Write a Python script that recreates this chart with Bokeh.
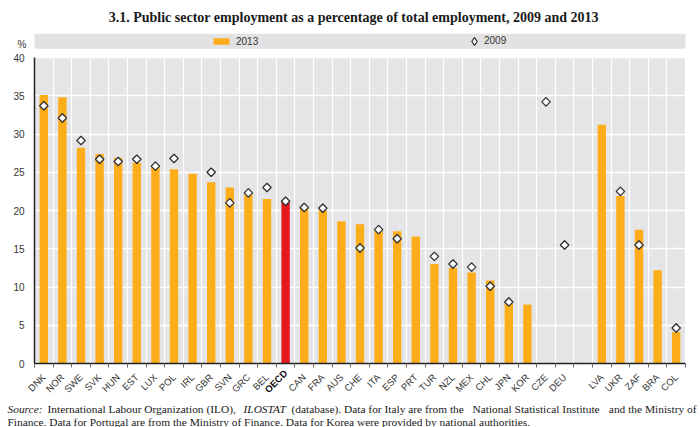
import math
from bokeh.plotting import figure
from bokeh.models import (ColumnDataSource, Range1d, FixedTicker, Label, Legend,
                          LegendItem, BoxAnnotation)
from bokeh.embed import file_html
from bokeh.resources import INLINE

nan = float("nan")

countries = ["DNK", "NOR", "SWE", "SVK", "HUN", "EST", "LUX", "POL", "IRL", "GBR",
             "SVN", "GRC", "BEL", "OECD", "CAN", "FRA", "AUS", "CHE", "ITA", "ESP",
             "PRT", "TUR", "NZL", "MEX", "CHL", "JPN", "KOR", "CZE", "DEU",
             "LVA", "UKR", "ZAF", "BRA", "COL"]
share_2013 = [35.1, 34.8, 28.2, 27.4, 26.9, 26.2, 25.9, 25.4, 24.8, 23.7,
              23.0, 22.1, 21.5, 21.3, 20.3, 20.0, 18.6, 18.2, 17.4, 17.3,
              16.6, 13.0, 12.5, 11.9, 10.85, 7.9, 7.7, nan, nan,
              31.2, 21.9, 17.5, 12.2, 4.1]
share_2009 = [33.7, 32.1, 29.15, 26.7, 26.4, 26.7, 25.8, 26.8, nan, 25.0,
              21.0, 22.3, 23.0, 21.2, 20.4, 20.3, nan, 15.1, 17.5, 16.3,
              nan, 14.0, 13.0, 12.6, 10.1, 8.05, nan, 34.2, 15.5,
              nan, 22.5, 15.5, nan, 4.65]
first_partner = "LVA"          # partner countries are shown after a gap
highlight = "OECD"
y_ticks = [0, 5, 10, 15, 20, 25, 30, 35, 40]
series_labels = ["2013", "2009"]
unit_label = "%"

title_text = "3.1.  Public sector employment as a percentage of total employment, 2009 and 2013"
# (text, style, x in px, line, align)
source_pieces = [
    ("Source:", "italic", 7, 0, "left"),
    ("International Labour Organization (ILO),", "normal", 47, 0, "left"),
    ("ILOSTAT", "italic", 243, 0, "left"),
    ("(database). Data for Italy are from the", "normal", 291, 0, "left"),
    ("National Statistical Institute", "normal", 472, 0, "left"),
    ("and the Ministry of", "normal", 696, 0, "right"),
    ("Finance. Data for Portugal are from the Ministry of Finance. Data for Korea were provided by national authorities.",
     "normal", 7, 1, "left"),
]

ORANGE = "#FDAC1A"
RED = "#E3171D"
BG = "#E5E5E7"
BAND = "#E2E2E3"
TXT = "#333333"
SANS = "Liberation Sans"
SERIF = "Liberation Serif"

# page geometry (px)
W, H = 700, 427
FRAME_L, FRAME_R = 34, 685     # plotting area left/right
FRAME_T, FRAME_B = 57, 363     # plotting area top/bottom

n = len(countries)
gap_at = countries.index(first_partner)
slots = [i + (1 if i >= gap_at else 0) for i in range(n)]
centers = [s + 0.5 for s in slots]
n_slots = n + 1
boundaries = list(range(n_slots + 1))
colors = [RED if c == highlight else ORANGE for c in countries]

src = ColumnDataSource(dict(x=centers, top=share_2013, y2009=share_2009,
                            color=colors, name=countries))

y_min, y_max = y_ticks[0], y_ticks[-1]
ppx = (FRAME_R - FRAME_L) / n_slots
ppy = (FRAME_B - FRAME_T) / (y_max - y_min)
x_range = Range1d(-FRAME_L / ppx, n_slots + (W - FRAME_R) / ppx)
y_range = Range1d(y_min - (H - FRAME_B) / ppy, y_max + FRAME_T / ppy)

p = figure(width=W, height=H, x_range=x_range, y_range=y_range,
           output_backend="svg", toolbar_location=None, min_border=0,
           background_fill_color="white", border_fill_color="white",
           outline_line_color=None)
p.title.visible = False

# grey plotting area
p.add_layout(BoxAnnotation(left=0, right=n_slots, bottom=y_min, top=y_max,
                           fill_color=BG, fill_alpha=1, line_color=None, level="image"))

# axes pinned to the plotting area
p.yaxis.fixed_location = 0
p.yaxis.bounds = (y_min, y_max)
p.yaxis.ticker = FixedTicker(ticks=y_ticks)
p.yaxis.axis_line_color = "#222222"
p.yaxis.axis_line_width = 1.5
p.yaxis.major_tick_out = 0
p.yaxis.major_tick_in = 0
p.yaxis.minor_tick_out = 0
p.yaxis.minor_tick_in = 0
p.yaxis.major_label_text_font = SANS
p.yaxis.major_label_text_font_size = "10px"
p.yaxis.major_label_text_color = TXT
p.yaxis.major_label_standoff = 10

p.xaxis.fixed_location = 0
p.xaxis.bounds = (0, n_slots)
p.xaxis.ticker = FixedTicker(ticks=centers, minor_ticks=boundaries)
p.xaxis.axis_line_color = "#222222"
p.xaxis.axis_line_width = 1.5
p.xaxis.major_tick_out = 0
p.xaxis.major_tick_in = 0
p.xaxis.minor_tick_out = 4
p.xaxis.minor_tick_in = 0
p.xaxis.minor_tick_line_color = "#666666"
p.xaxis.major_label_overrides = {c: ("" if name == highlight else name)
                                 for c, name in zip(centers, countries)}
p.xaxis.major_label_orientation = math.pi / 4
p.xaxis.major_label_text_font = SANS
p.xaxis.major_label_text_font_size = "9.5px"
p.xaxis.major_label_text_color = TXT
p.xaxis.major_label_standoff = 8

p.xgrid.ticker = FixedTicker(ticks=boundaries)
p.xgrid.cross_bounds = (y_min, y_max)
p.xgrid.grid_line_color = "white"
p.xgrid.grid_line_width = 1.2
p.ygrid.ticker = FixedTicker(ticks=y_ticks)
p.ygrid.cross_bounds = (0, n_slots)
p.ygrid.grid_line_color = "white"
p.ygrid.grid_line_width = 1.5

# data
bars = p.vbar(x="x", top="top", width=0.45, fill_color="color", line_color=None, source=src)
# diamond glyph used for the legend icon (fully covered by the markers drawn on top)
dots_key = p.scatter(x="x", y="y2009", marker="diamond", size=8,
                     fill_color="white", line_color="#333333", line_width=1.3, source=src)
dots = p.scatter(x="x", y="y2009", marker="square", angle=math.pi / 4, size=6,
                 fill_color="white", line_color="#333333", line_width=1.3, source=src)

# bold OECD category label
hi = countries.index(highlight)
p.add_layout(Label(x=centers[hi], y=(H - FRAME_B) - 8, y_units="screen", text=highlight,
                   angle=45, angle_units="deg", text_align="right", text_baseline="middle",
                   text_font=SANS, text_font_size="9.5px", text_font_style="bold",
                   text_color="#111111"))

# legend band + legends
p.add_layout(BoxAnnotation(left=0, right=n_slots, bottom=H - 48.3, top=H - 33.3,
                           bottom_units="screen", top_units="screen",
                           fill_color=BAND, fill_alpha=1, line_color=None, level="underlay"))
leg1 = Legend(items=[LegendItem(label=series_labels[0], renderers=[bars], index=0)],
              location=(211, H - 46.7), orientation="horizontal", glyph_width=20,
              glyph_height=8, label_standoff=5, padding=0, margin=0, spacing=0,
              background_fill_alpha=0, border_line_color=None, label_text_font=SANS,
              label_text_font_size="10px", label_text_color=TXT, label_height=10)
leg2 = Legend(items=[LegendItem(label=series_labels[1], renderers=[dots_key], index=0)],
              location=(464, H - 50.7), orientation="horizontal", glyph_width=20,
              glyph_height=20, label_standoff=-3, padding=0, margin=0, spacing=0,
              background_fill_alpha=0, border_line_color=None, label_text_font=SANS,
              label_text_font_size="10px", label_text_color=TXT, label_height=10)
p.add_layout(leg1)
p.add_layout(leg2)

# unit label and title
p.add_layout(Label(x=21.5, y=H - 44, x_units="screen", y_units="screen", text=unit_label,
                   text_align="center", text_baseline="middle", text_font=SANS,
                   text_font_size="10px", text_color=TXT))
p.add_layout(Label(x=355, y=H - 17, x_units="screen", y_units="screen", text=title_text,
                   text_align="center", text_baseline="middle", text_font=SERIF,
                   text_font_size="14px", text_font_style="bold", text_color="#1a1a1a"))

# source note
for text, style, cx, line, align in source_pieces:
    p.add_layout(Label(x=cx, y=H - 408 - 13 * line, x_units="screen", y_units="screen",
                       text=text, text_align=align, text_baseline="middle",
                       text_font=SERIF, text_font_size="11.4px", text_font_style=style,
                       text_color="#1a1a1a"))

open("out.html", "w").write(file_html(p, INLINE))
